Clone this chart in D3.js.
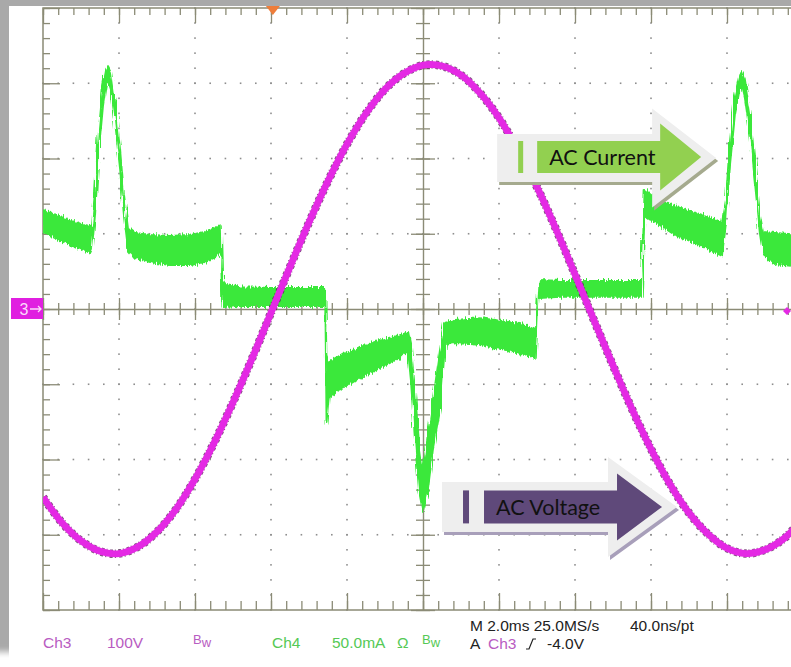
<!DOCTYPE html>
<html>
<head>
<meta charset="utf-8">
<script src="https://cdn.jsdelivr.net/npm/d3@7"></script>
<style>
  html, body { margin: 0; padding: 0; background: #fff; overflow: hidden; }
</style>
</head>
<body>
<div id="chart"></div>
<script>
// scope settings: 2 ms/div horizontally, Ch3 100 V/div, Ch4 50 mA/div
const timeMajor = [0, 2, 4, 6, 8, 10, 12, 14, 16, 18, 20];
const voltMajor = [-400, -300, -200, -100, 0, 100, 200, 300, 400];

// Ch3 - AC voltage (V)
const voltTime = [0, 0.5, 1, 1.5, 2, 2.5, 3, 3.5, 4, 4.5, 5, 5.5, 6, 6.5, 7, 7.5, 8, 8.5, 9, 9.5,
  10, 10.5, 11, 11.5, 12, 12.5, 13, 13.5, 14, 14.5, 15, 15.5, 16, 16.5, 17, 17.5, 18, 18.5, 19, 19.5, 20];
const voltValue = [-250, -284, -308, -322, -325, -316, -296, -266, -226, -178, -124, -66, -5, 56, 115, 170, 219, 260, 292, 313,
  324, 323, 311, 287, 254, 211, 162, 106, 46, -15, -75, -133, -186, -233, -271, -299, -318, -325, -320, -305, -278];

// Ch4 - AC current (mA), upper and lower edge of the noisy band
const curTime = [0, 0.45, 0.84, 1.24, 1.29, 1.37, 1.47, 1.58, 1.66, 1.71, 1.79, 1.89, 2.03, 2.13, 2.24,
  2.42, 2.82, 3.34, 3.87, 4.26, 4.53, 4.68, 4.72, 5.18, 5.97, 6.76, 7.39, 7.43, 7.46, 7.52,
  7.82, 8.34, 8.87, 9.39, 9.61, 9.68, 9.79, 9.89, 10.0, 10.11, 10.26, 10.45, 10.58,
  10.84, 11.5, 12.16, 12.68, 12.97, 13.04, 13.61, 14.66, 15.76, 15.83,
  16.11, 16.63, 17.29, 17.87, 17.97, 18.08, 18.21, 18.32, 18.39, 18.47, 18.61, 18.74, 18.87, 18.95,
  19.26, 19.68, 20];
const curHigh = [65.8, 61.8, 57.8, 55.2, 56, 79.1, 119.0, 148.9, 159.5, 161.5, 157.5, 139.0, 105.7, 75.8, 53.8,
  50.5, 49.2, 48.5, 49.2, 51.2, 53.8, 55.8, 17.3, 14.6, 14.0, 14.0, 14.0, 14.0, -30.6, -35.2,
  -30.6, -25.3, -20.6, -17.3, -15.3, -23.9, -53.8, -87.1, -107.3, -87.1, -60.5, -27.2, -8.6,
  -7.3, -6.0, -8.0, -10.6, -14.0, 19.3, 18.6, 18.6, 18.6, 79.1,
  73.8, 68.4, 63.1, 57.8, 72.4, 112.3, 142.2, 154.8, 157.5, 152.2, 128.9, 95.7, 62.5, 51.2,
  50.5, 49.8, 49.5];
const curLow = [51.2, 45.9, 41.2, 37.2, 40, 62.5, 105.7, 135.6, 149.5, 152.2, 145.5, 125.6, 92.4, 62.5, 39.2,
  33.9, 31.2, 29.2, 29.2, 31.2, 33.9, 39.2, 1.3, 2.0, 2.0, 2.0, 2.0, 2.0, -75.8, -59.1,
  -53.8, -45.9, -39.2, -32.6, -28.6, -47.2, -87.1, -120.3, -134.9, -123.6, -93.7, -67.1, -23.9,
  -22.6, -23.9, -27.2, -30.6, -32.6, 7.3, 8.0, 8.0, 8.0, 62.5,
  57.8, 49.2, 42.5, 35.2, 55.8, 95.7, 128.9, 144.2, 148.8, 140.2, 115.6, 82.4, 49.2, 35.9,
  29.9, 28.6, 28.5];

const triggerTime = 6.05;

const W = 791, H = 667;
const x = d3.scaleLinear().domain([0, 20]).range([43, 803]);
const yV = d3.scaleLinear().domain([-400, 400]).range([610, 8]);
const yI = d3.scaleLinear().domain([-200, 200]).range([610, 8]);

const axisColor = "#8b8b76";
const green = "#3be83b";
const magenta = "#e429e4";

const svg = d3.select("#chart").append("svg").attr("width", W).attr("height", H);
const defs = svg.append("defs");
defs.append("filter").attr("id", "soft")
  .append("feGaussianBlur").attr("stdDeviation", 3);
defs.append("clipPath").attr("id", "plotClip")
  .append("rect").attr("x", 43).attr("y", 8).attr("width", 760).attr("height", 602);
// scope-style noise texture on the current band edges
const noise = defs.append("filter").attr("id", "jitter")
  .attr("x", "-2%").attr("y", "-5%").attr("width", "104%").attr("height", "110%");
noise.append("feTurbulence").attr("type", "fractalNoise").attr("baseFrequency", "0.8 0.03")
  .attr("numOctaves", 2).attr("seed", 4).attr("result", "t");
noise.append("feDisplacementMap").attr("in", "SourceGraphic").attr("in2", "t")
  .attr("scale", 7).attr("xChannelSelector", "R").attr("yChannelSelector", "G");

// picture frame with soft shadow
svg.append("rect").attr("width", W).attr("height", H).attr("fill", "#fff");
svg.append("rect").attr("x", -30).attr("y", -30).attr("width", W + 60).attr("height", 682)
  .attr("fill", "#a9a9a9").attr("filter", "url(#soft)");
svg.append("rect").attr("x", 9).attr("y", 6).attr("width", W).attr("height", H).attr("fill", "#fff");

// dotted graticule
const minorT = d3.range(0, 20.001, 0.4);
const minorV = d3.range(-400, 400.001, 20);
const grid = svg.append("g").attr("fill", "#8e8e8e");
timeMajor.filter(t => t > 0 && t < 20 && t !== 10).forEach(t => {
  grid.selectAll(null).data(minorV).enter().append("rect")
    .attr("x", x(t) - 0.8).attr("y", d => yV(d) - 0.8)
    .attr("width", 1.6).attr("height", 1.6);
});
voltMajor.filter(v => v > -400 && v < 400 && v !== 0).forEach(v => {
  grid.selectAll(null).data(minorT).enter().append("rect")
    .attr("x", d => x(d) - 0.8).attr("y", yV(v) - 0.8)
    .attr("width", 1.6).attr("height", 1.6);
});

// border and ticks
function styleAxis(g) {
  g.selectAll("line").attr("stroke", axisColor).attr("stroke-width", 1.3);
  g.selectAll("path").attr("stroke", axisColor).attr("stroke-width", 1.4);
}
svg.append("rect").attr("x", 43).attr("y", 8).attr("width", 760).attr("height", 602)
  .attr("fill", "none").attr("stroke", axisColor).attr("stroke-width", 1.5);

const ticks = svg.append("g");
[[minorT, 7], [timeMajor, 15]].forEach(([vals, size]) => {
  ticks.append("g").attr("transform", "translate(0,8)")
    .call(d3.axisBottom(x).tickValues(vals).tickSize(size).tickSizeOuter(0).tickFormat(""))
    .call(styleAxis).call(g => g.select(".domain").remove());
  ticks.append("g").attr("transform", "translate(0,610)")
    .call(d3.axisTop(x).tickValues(vals).tickSize(size + 2).tickSizeOuter(0).tickFormat(""))
    .call(styleAxis).call(g => g.select(".domain").remove());
});
[[minorV, 7], [voltMajor, 17]].forEach(([vals, size]) => {
  ticks.append("g").attr("transform", "translate(43,0)")
    .call(d3.axisRight(yV).tickValues(vals).tickSize(size).tickSizeOuter(0).tickFormat(""))
    .call(styleAxis).call(g => g.select(".domain").remove());
});

// centre cross axes
[[minorT, 6], [timeMajor, 11]].forEach(([vals, size], i) => {
  ticks.append("g").attr("transform", `translate(0,${yV(0)})`)
    .call(d3.axisTop(x).tickValues(vals).tickSize(size).tickSizeOuter(0).tickFormat(""))
    .call(styleAxis).call(g => { if (i) g.select(".domain").remove(); });
  ticks.append("g").attr("transform", `translate(0,${yV(0)})`)
    .call(d3.axisBottom(x).tickValues(vals).tickSize(size).tickSizeOuter(0).tickFormat(""))
    .call(styleAxis).call(g => g.select(".domain").remove());
});
[[minorV, 7], [voltMajor, 12]].forEach(([vals, size], i) => {
  ticks.append("g").attr("transform", `translate(${x(10)},0)`)
    .call(d3.axisLeft(yV).tickValues(vals).tickSize(size).tickSizeOuter(0).tickFormat(""))
    .call(styleAxis).call(g => { if (i) g.select(".domain").remove(); });
  ticks.append("g").attr("transform", `translate(${x(10)},0)`)
    .call(d3.axisRight(yV).tickValues(vals).tickSize(size).tickSizeOuter(0).tickFormat(""))
    .call(styleAxis).call(g => g.select(".domain").remove());
});

// traces
const traces = svg.append("g").attr("clip-path", "url(#plotClip)");
const curData = curTime.map((t, i) => ({ t, hi: curHigh[i], lo: curLow[i] }));
traces.append("g").attr("filter", "url(#jitter)")
  .append("path").datum(curData)
  .attr("d", d3.area().x(d => x(d.t)).y0(d => yI(d.lo)).y1(d => yI(d.hi)))
  .attr("fill", green).attr("stroke", green).attr("stroke-width", 1.8).attr("stroke-linejoin", "round");

const voltData = voltTime.map((t, i) => ({ t, v: voltValue[i] }));
const voltLine = d3.line().x(d => x(d.t)).y(d => yV(d.v)).curve(d3.curveCatmullRom);
traces.append("path").datum(voltData).attr("d", voltLine)
  .attr("fill", "none").attr("stroke", "#5a1a5a").attr("stroke-opacity", 0.75).attr("stroke-width", 8.5)
  .attr("stroke-dasharray", "3 2 1 3");
traces.append("path").datum(voltData).attr("d", voltLine)
  .attr("fill", "none").attr("stroke", magenta).attr("stroke-width", 6.8);

// trigger position marker
const tx = x(triggerTime);
svg.append("path").attr("d", `M${tx - 7},6 L${tx + 7},6 L${tx},15 Z`).attr("fill", "#ee7d3a");

// channel 3 ground marker
const gy = yV(0);
svg.append("rect").attr("x", 11).attr("y", gy - 11).attr("width", 32).attr("height", 21).attr("fill", "#e01fe0");
svg.append("text").attr("x", 24).attr("y", gy + 6).attr("text-anchor", "middle")
  .attr("font-family", "Liberation Sans, Arial, sans-serif").attr("font-size", 16).attr("fill", "#fbd8fb").text("3");
svg.append("path").attr("d", `M30,${gy} H41 M38,${gy - 3} L41,${gy} L38,${gy + 3}`)
  .attr("stroke", "#fbd8fb").attr("stroke-width", 1.3).attr("fill", "none");
svg.append("path").attr("d", `M783,${gy + 2} L787,${gy - 2} L791,${gy + 2} L787,${gy + 6} Z`).attr("fill", magenta);

// callout arrows
const callouts = [
  { label: "AC Current", tipT: 17.32, tipV: 202, fill: "#92d050", shadow: "#a5aa8e",
    inner: { bodyLeft: -164, headLeft: -41, bodyHalf: 16, headHalf: 33.5 },
    outer: { tip: 15, dy: 1, bodyLeft: -204, headLeft: -49, bodyHalf: 24, headHalf: 49.5 },
    bar: [-183, -178], textX: -152 },
  { label: "AC Voltage", tipT: 16.29, tipV: -263, fill: "#5f497a", shadow: "#a89fba",
    inner: { bodyLeft: -178, headLeft: -45, bodyHalf: 16.5, headHalf: 33.5 },
    outer: { tip: 15, dy: 0, bodyLeft: -220, headLeft: -54, bodyHalf: 25, headHalf: 50 },
    bar: [-199, -193], textX: -166 }
];
function arrowPts(tx, ty, tip, a) {
  return [[tx + a.bodyLeft, ty - a.bodyHalf], [tx + a.headLeft, ty - a.bodyHalf], [tx + a.headLeft, ty - a.headHalf],
    [tx + tip, ty], [tx + a.headLeft, ty + a.headHalf], [tx + a.headLeft, ty + a.bodyHalf],
    [tx + a.bodyLeft, ty + a.bodyHalf]].map(p => p.join(",")).join(" ");
}
callouts.forEach(c => {
  const cx = x(c.tipT), cy = yV(c.tipV);
  const g = svg.append("g");
  const oy = cy + c.outer.dy;
  g.append("polygon").attr("points", arrowPts(cx + 2, oy + 3, c.outer.tip, c.outer)).attr("fill", c.shadow);
  g.append("polygon").attr("points", arrowPts(cx, oy, c.outer.tip, c.outer)).attr("fill", "#eeeeee");
  g.append("polygon").attr("points", arrowPts(cx, cy, 0, c.inner)).attr("fill", c.fill);
  g.append("rect").attr("x", cx + c.bar[0]).attr("y", cy - c.inner.bodyHalf)
    .attr("width", c.bar[1] - c.bar[0]).attr("height", c.inner.bodyHalf * 2).attr("fill", c.fill);
  g.append("text").attr("x", cx + c.textX).attr("y", cy + 8)
    .attr("font-family", "Lato, 'Open Sans', sans-serif").attr("font-size", 21.5).attr("fill", "#111")
    .text(c.label);
});

// readout text under the screen
const readFont = "Liberation Sans, Arial, sans-serif";
const ch3Color = "#b85cc2", ch4Color = "#55c955", inkColor = "#222";
const readouts = [
  { text: "Ch3", x: 43, y: 648, color: ch3Color },
  { text: "100V", x: 107, y: 648, color: ch3Color },
  { text: "Ch4", x: 272, y: 648, color: ch4Color },
  { text: "50.0mA", x: 332, y: 648, color: ch4Color },
  { text: "Ω", x: 397, y: 648, color: ch4Color },
  { text: "M 2.0ms 25.0MS/s", x: 470, y: 631, color: inkColor },
  { text: "40.0ns/pt", x: 630, y: 631, color: inkColor },
  { text: "A", x: 470, y: 649, color: inkColor },
  { text: "Ch3", x: 488, y: 649, color: ch3Color },
  { text: "-4.0V", x: 547, y: 649, color: inkColor }
];
svg.append("g").selectAll("text").data(readouts).enter().append("text")
  .attr("x", d => d.x).attr("y", d => d.y).attr("fill", d => d.color)
  .attr("font-family", readFont).attr("font-size", 15.5).text(d => d.text);

[[193, ch3Color], [422, ch4Color]].forEach(([bx, col]) => {
  const t = svg.append("text").attr("x", bx).attr("y", 644).attr("fill", col)
    .attr("font-family", readFont).attr("font-size", 13);
  t.append("tspan").text("B");
  t.append("tspan").attr("dy", 3).text("w");
});
svg.append("path").attr("d", "M526,649 H529 L533,639 H536")
  .attr("stroke", inkColor).attr("stroke-width", 1.2).attr("fill", "none");
</script>
</body>
</html>
